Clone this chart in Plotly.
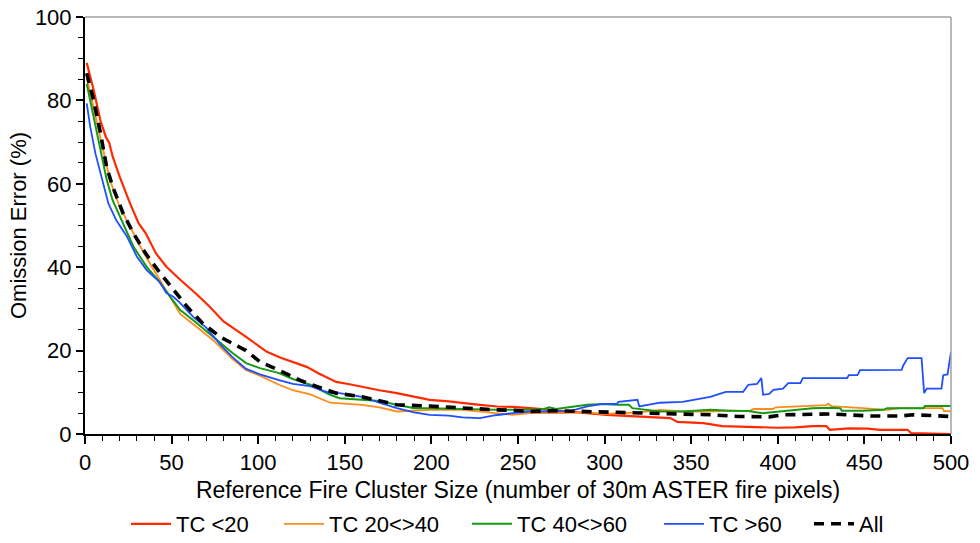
import plotly.graph_objects as go

# ---- data ----
red_x = [1, 5, 9, 12, 14, 16, 20, 26, 31, 35, 41, 47, 55, 64, 72, 80, 93, 105, 113, 128, 135, 145, 152, 160, 170, 180, 190, 199, 210, 218, 228, 238, 247, 257, 268, 280, 290, 301, 315, 330, 338, 342, 357, 368, 378, 388, 400, 410, 420, 428, 430, 441, 452, 459, 475, 477, 500]
red_y = [89, 82.5, 75, 71.3, 69.8, 66.5, 61.7, 55.3, 50.5, 48.2, 43.3, 40.1, 37, 33.7, 30.5, 27, 23.3, 19.7, 18.3, 16.1, 14.5, 12.5, 12, 11.3, 10.5, 9.8, 9, 8.2, 7.8, 7.4, 7.0, 6.6, 6.5, 6.2, 5.8, 5.2, 5.0, 4.6, 4.3, 4.0, 3.8, 2.9, 2.6, 1.9, 1.75, 1.5, 1.5, 1.6, 1.9, 1.9, 1.0, 1.35, 1.3, 1.0, 1.0, 0.2, 0]

orange_x = [1, 6, 10.6, 14.4, 20, 26, 32, 37.5, 47, 55, 62, 74, 85, 93, 101, 112, 120, 130, 141.5, 147, 160, 170, 180, 199, 218, 237, 247, 257, 275, 290, 299, 320, 332, 345, 361, 372, 383.6, 386, 397, 399, 418.6, 428, 429, 431, 449, 463, 470, 495, 496, 500]
orange_y = [85.5, 76.1, 67.3, 60.9, 54.5, 49.7, 44.9, 40.9, 34.5, 28.8, 26.5, 22.5, 18, 15.3, 14.0, 11.8, 10.5, 9.5, 7.5, 7.4, 7.0, 6.4, 5.4, 5.8, 5.8, 5.0, 4.6, 5.0, 5.0, 5.2, 4.8, 5.2, 5.8, 5.4, 5.4, 5.6, 5.5, 6.0, 6.0, 6.4, 6.7, 6.9, 7.3, 6.7, 6.2, 5.8, 6.2, 6.2, 5.5, 5.5]

green_x = [1, 5, 9, 12.5, 16, 22, 28, 35.6, 43, 49, 55, 62.5, 74, 78, 85, 93, 101, 112, 120, 130, 141.5, 147, 155, 160, 170, 180, 190, 199, 218, 237, 257, 265, 268, 272, 290, 299, 307, 314, 316, 332, 345, 361, 372, 383, 391, 405, 420, 430, 436, 437, 449, 461, 463, 484, 485, 500]
green_y = [84, 76, 68, 61, 56, 50.6, 44.9, 40.1, 36.5, 33, 29.7, 27.3, 23.3, 21.8, 19.5, 17, 15.8, 14.6, 13.2, 11.8, 9.4, 8.6, 8.4, 8.2, 7.9, 7.0, 6.2, 6.2, 6.0, 5.8, 5.8, 6.0, 6.4, 6.0, 7.0, 7.2, 7.0, 7.0, 6.2, 5.4, 5.4, 5.8, 5.6, 5.5, 5.0, 5.6, 6.2, 6.3, 6.2, 5.6, 5.6, 5.8, 6.2, 6.2, 6.7, 6.7]

blue_x = [1, 3, 6, 10, 13.5, 18, 24, 30, 35.6, 43, 47, 51, 55, 62.5, 70, 78, 85, 93, 101, 112, 120, 130, 141.5, 147, 160, 170, 180, 190, 199, 210, 218, 228, 237, 247, 257, 270, 280, 290, 299, 307, 308, 319, 320, 332, 345, 361, 366, 370, 380, 383, 388, 390.5, 391.5, 395, 397.5, 403, 406, 413, 414.5, 440, 441, 446, 447.5, 471.5, 472.5, 475, 483, 484.5, 486, 494.5, 495.5, 498, 500]
blue_y = [79.3, 73.7, 67.3, 61, 55.3, 51.3, 47.5, 42.5, 39.3, 36.5, 33.8, 32.9, 31.4, 28.1, 25.5, 21.5, 18.5, 15.6, 14.3, 12.9, 12.0, 11.5, 9.8, 9.8, 8.9, 7.5, 6.2, 5.2, 4.6, 4.4, 4.0, 3.8, 4.5, 5.0, 5.4, 5.4, 5.5, 6.6, 7.2, 7.2, 7.7, 8.2, 6.6, 7.5, 7.7, 8.9, 9.6, 10.1, 10.1, 11.8, 12.0, 13.4, 9.4, 9.6, 10.6, 10.9, 12.2, 12.2, 13.4, 13.4, 14.1, 14.1, 15.3, 15.4, 16.5, 18.2, 18.2, 9.8, 10.9, 10.9, 14.1, 14.3, 19.7]

all_x = [1, 5, 9, 12.5, 16, 22, 28, 35, 43, 53, 59, 68, 78, 93, 101, 112, 124, 135, 145, 160, 170, 180, 199, 218, 237, 247, 257, 270, 290, 300, 320, 332, 345, 361, 378, 395, 403, 430, 440, 455, 470, 478, 490, 500]
all_y = [86.5, 80, 72, 64, 59.3, 52.9, 48.1, 43.3, 38.8, 33.7, 30.5, 26.5, 23.3, 20, 17.3, 15.3, 12.9, 11.2, 9.8, 8.9, 8.0, 7.0, 6.7, 6.2, 5.8, 5.7, 5.4, 5.6, 5.4, 5.4, 5.2, 5.0, 4.8, 4.6, 4.2, 4.1, 4.6, 4.8, 4.6, 4.3, 4.3, 4.6, 4.4, 4.2]

names = ["TC <20", "TC 20<>40", "TC 40<>60", "TC >60", "All"]
x_ticks = [0, 50, 100, 150, 200, 250, 300, 350, 400, 450, 500]
y_ticks = [0, 20, 40, 60, 80, 100]

FONT = "Liberation Sans, Arial, sans-serif"

series = [
    (red_x, red_y, "#ff2a00", 2.2, "solid"),
    (orange_x, orange_y, "#ff8c1a", 1.8, "solid"),
    (green_x, green_y, "#169a16", 2.0, "solid"),
    (blue_x, blue_y, "#1f4fff", 1.8, "solid"),
    (all_x, all_y, "#000000", 3.6, "10px,7px"),
]
legend_ids = ["legend", "legend2", "legend3", "legend4", "legend5"]
legend_px = [126, 279, 467, 659, 809]   # left edge of each legend entry (pixels)

fig = go.Figure()
for (xs, ys, col, w, dash), nm, lg in zip(series, names, legend_ids):
    fig.add_trace(go.Scatter(x=xs, y=ys, mode="lines", name=nm, legend=lg,
                             line=dict(color=col, width=w, dash=dash)))

L, R, T, B = 85, 29, 17, 109
plot_w = 980 - L - R
legend_layout = {}
for lg, px in zip(legend_ids, legend_px):
    legend_layout[lg] = dict(x=(px - L) / plot_w, xanchor="left", xref="paper",
                             y=1 - 524 / 543, yref="container", yanchor="middle",
                             font=dict(size=22), itemwidth=40, bgcolor="rgba(0,0,0,0)")

fig.update_layout(
    width=980, height=543,
    margin=dict(l=L, r=R, t=T, b=B, autoexpand=False),
    paper_bgcolor="white", plot_bgcolor="white",
    font=dict(family=FONT, size=22, color="black"),
    showlegend=True,
    shapes=[
        dict(type="line", xref="paper", yref="paper", x0=0, x1=1, y0=1, y1=1,
             line=dict(color="#a0a0a0", width=1.5)),
        dict(type="line", xref="paper", yref="paper", x0=1, x1=1, y0=0, y1=1,
             line=dict(color="#a0a0a0", width=1.5)),
    ],
    **legend_layout,
)
fig.update_xaxes(range=[0, 500], tickvals=x_ticks, ticks="outside", ticklen=8, tickwidth=1.5,
                 tickcolor="black", showline=True, linecolor="black", linewidth=2,
                 showgrid=False, zeroline=False, automargin=True,
                 minor=dict(ticks="outside", ticklen=5, tickwidth=1.2, dtick=10, tickcolor="black", showgrid=False),
                 title=dict(text="Reference Fire Cluster Size (number of 30m ASTER fire pixels)", standoff=8,
                            font=dict(size=23)),
                 tickfont=dict(size=22))
fig.update_yaxes(range=[0, 100], tickvals=y_ticks, ticks="outside", ticklen=7, tickwidth=1.5,
                 tickcolor="black", showline=True, linecolor="black", linewidth=2,
                 showgrid=False, zeroline=False, automargin=True,
                 minor=dict(ticks="outside", ticklen=5, tickwidth=1.2, dtick=5, tickcolor="black", showgrid=False),
                 title=dict(text="Omission Error (%)", standoff=2, font=dict(size=22)),
                 tickfont=dict(size=22))

fig.write_html("out.html")
